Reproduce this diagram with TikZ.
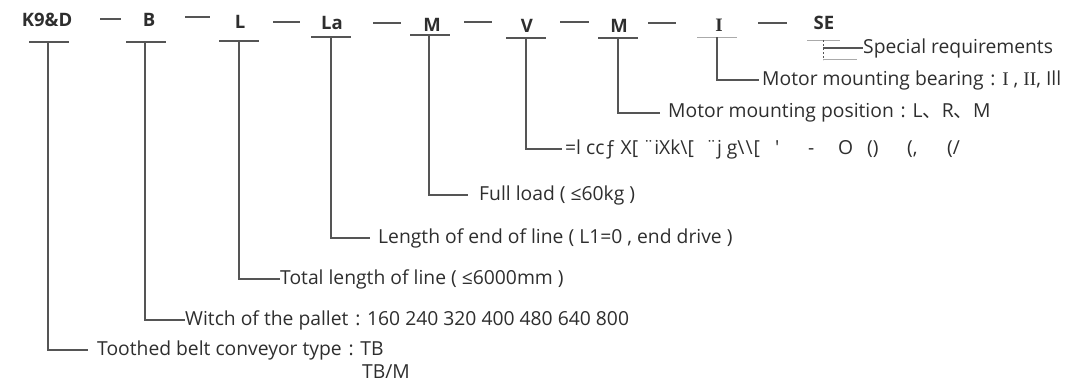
\documentclass[tikz,border=0pt]{standalone}
\usepackage{fontspec}
\setmainfont{Open Sans}
\newfontfamily\cjk{Noto Sans CJK SC}
\newfontfamily\serif{Liberation Serif}
\definecolor{txt}{HTML}{2E2E2E}
\definecolor{ln}{HTML}{555555}
\definecolor{lt}{HTML}{AAAAAA}
\newcommand{\colsep}{\hspace{0.35em}:\hspace{0.35em}}
\begin{document}
\begin{tikzpicture}[x=1pt,y=-1pt,
  code/.style={font=\bfseries\fontsize{18.5}{18.5}\selectfont, text=txt, inner sep=0},
  lab/.style={font=\fontsize{19.3}{21}\selectfont, text=txt, anchor=west, inner sep=0},
  bar/.style={draw=ln, line width=1.4pt},
  lbar/.style={draw=lt, line width=1pt},
  conn/.style={draw=ln, line width=1.4pt},
  sepline/.style={draw=ln, line width=1.8pt}]
\useasboundingbox (0,0) rectangle (1079,381);

% codes
\node[code] (hK) at (47,20) {K9\&D};
\node[code] (hB) at (149,20) {B};
\node[code] (hL) at (240,22) {L};
\node[code] (hLa) at (332,23) {La};
\node[code] (hM) at (432,25) {M};
\node[code] (hV) at (527,26) {V};
\node[code] (hMb) at (619,26) {M};
\node[code,font=\serif\bfseries\fontsize{19}{19}\selectfont] (hI) at (719,25) {I};
\node[code] (hSE) at (824,23) {SE};

% separators
\draw[sepline] (100,19)--(121,19);
\draw[sepline] (185,17)--(210,17);
\draw[sepline] (273,22)--(300,22);
\draw[sepline] (373,23)--(401,23);
\draw[sepline] (464,22)--(492,22);
\draw[sepline] (560,22)--(589,22);
\draw[sepline] (648,23)--(676,23);
\draw[sepline] (758,23)--(787,23);

% bars
\draw[bar] (29,42)--(69,42);   \coordinate (bK) at (48,42);
\draw[bar] (126,42)--(166,42); \coordinate (bB) at (145,42);
\draw[bar] (219,41)--(259,41); \coordinate (bL) at (239,41);
\draw[bar] (311,37)--(351,37); \coordinate (bLa) at (331,37);
\draw[bar] (410,35)--(450,35); \coordinate (bM) at (429,35);
\draw[bar] (506,38)--(546,38); \coordinate (bV) at (526,38);
\draw[bar] (598,38)--(638,38); \coordinate (bMb) at (618,38);
\draw[lbar] (697,37)--(737,37); \coordinate (bI) at (717,37);
\draw[lbar] (807,40)--(840,40); \coordinate (bSE) at (823,40);

% labels
\node[lab] (lK) at (97,350) {Toothed belt conveyor type\colsep TB};
\node[lab] (lKb) at (362,371.5) {TB/M};
\node[lab] (lB) at (185,320) {Witch of the pallet\colsep 160 240 320 400 480 640 800};
\node[lab] (lL) at (280,279) {Total length of line ( ≤6000mm )};
\node[lab] (lLa) at (378,238) {Length of end of line ( L1=0 , end drive )};
\node[lab] (lM) at (479,195) {Full load ( ≤60kg )};
\node[lab] (lV) at (565,149) {\makebox[210pt][l]{=l ccƒ X[ ¨iXk\textbackslash[\hspace{12pt}¨j\hspace{5pt}g\textbackslash\hspace{1pt}\textbackslash\hspace{1pt}[}\makebox[33pt][l]{\textquotesingle}\makebox[30pt][l]{-}\makebox[29pt][l]{O}\makebox[40pt][l]{()}\makebox[40pt][l]{(,}(/};
\node[lab] (lMb) at (668,113) {Motor mounting position\colsep L{\cjk、}R{\cjk、}M};
\node[lab] (lI) at (762,80) {Motor mounting bearing\colsep{\serif I} , {\serif II}, Ill};
\node[lab] (lSE) at (863,48) {Special requirements};

% connectors
\draw[conn] (bK) |- ([xshift=-9pt]lK.west);
\draw[conn] (bB) |- (lB.west);
\draw[conn] (bL) |- (lL.west);
\draw[conn] (bLa) |- ([xshift=-8pt]lLa.west);
\draw[conn] (bM) |- ([xshift=-11pt]lM.west);
\draw[conn] (bV) |- ([xshift=-3pt]lV.west);
\draw[conn] (bMb) |- ([xshift=-8pt]lMb.west);
\draw[conn] (bI) |- ([xshift=-3pt]lI.west);
\draw[ln, line width=0.6pt, dash pattern=on 2pt off 2pt] (bSE) -- ++(0,20);
\draw[conn] (bSE |- lSE.west) -- (lSE.west);
\draw[lbar] (823,59) -- (857,59);
\end{tikzpicture}
\end{document}
